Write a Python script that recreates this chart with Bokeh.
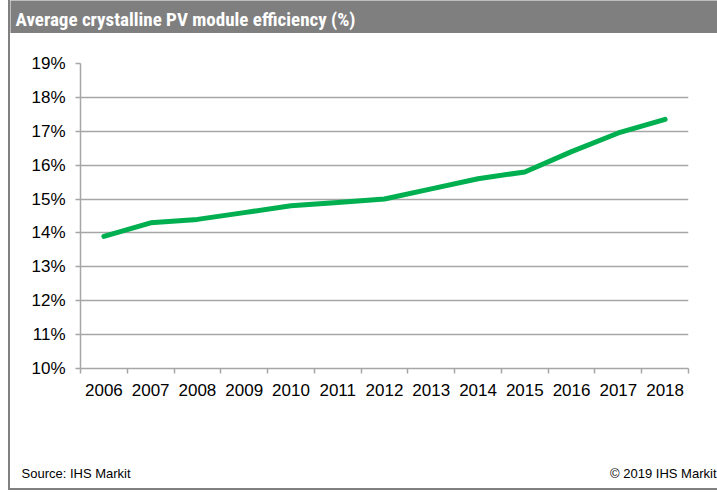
from bokeh.plotting import figure
from bokeh.layouts import column
from bokeh.models import FixedTicker, PrintfTickFormatter, Range1d
from bokeh.core.properties import value
from bokeh.embed import file_html
from bokeh.resources import INLINE

years = [2006, 2007, 2008, 2009, 2010, 2011, 2012, 2013, 2014, 2015, 2016, 2017, 2018]
efficiency = [13.9, 14.3, 14.4, 14.6, 14.8, 14.9, 15.0, 15.3, 15.6, 15.8, 16.4, 16.95, 17.35]
y_ticks = [10, 11, 12, 13, 14, 15, 16, 17, 18, 19]
title_text = "Average crystalline PV module efficiency (%)"
source_text = "Source: IHS Markit"
copyright_text = "\u00a9 2019 IHS Markit"

GRAY = "#7f7f7f"
GRID = "#a6a6a6"
FONT = "Liberation Sans"
W = 707
TH = 33
MH = 422
FH = 33

# Title bar
t = figure(width=W, height=TH, x_range=Range1d(0, W), y_range=Range1d(0, TH),
           x_axis_location=None, y_axis_location=None, frame_align=False,
           output_backend="svg", toolbar_location=None, min_border=0,
           background_fill_color=GRAY, border_fill_color=GRAY, outline_line_color=None)
t.grid.visible = False
t.text(x=[5], y=[TH - 19], text=[title_text], text_color="white",
       text_font=value("Roboto Condensed, Liberation Sans"),
       text_font_style="bold", text_font_size="19px", text_baseline="middle", text_align="left")

# Main chart
p = figure(width=W, height=MH, x_range=Range1d(years[0] - 0.5, years[-1] + 0.5),
           y_range=Range1d(10, 19), output_backend="svg", toolbar_location=None, frame_align=False,
           min_border_left=70, min_border_right=29, min_border_top=30, min_border_bottom=87,
           outline_line_color=None, background_fill_color="white", border_fill_color="white")
p.line(years, efficiency, line_color="#00b050", line_width=5, line_cap="round", line_join="round")

p.xgrid.visible = False
p.ygrid.ticker = FixedTicker(ticks=y_ticks)
p.ygrid.grid_line_color = GRID
p.ygrid.grid_line_width = 1.5

p.xaxis.ticker = FixedTicker(ticks=years, minor_ticks=[y - 0.5 for y in years] + [years[-1] + 0.5])
p.xaxis.major_label_overrides = {y: str(y) for y in years}
p.xaxis.major_tick_out = 0
p.xaxis.major_tick_in = 0
p.xaxis.minor_tick_out = 5
p.xaxis.minor_tick_in = 0
p.xaxis.minor_tick_line_color = GRID
p.xaxis.minor_tick_line_width = 1.5
p.xaxis.major_label_standoff = 10

p.yaxis.ticker = FixedTicker(ticks=y_ticks)
p.yaxis.formatter = PrintfTickFormatter(format="%d%%")
p.yaxis.major_tick_out = 5
p.yaxis.major_tick_in = 0
p.yaxis.minor_tick_out = 0
p.yaxis.minor_tick_in = 0
p.yaxis.major_tick_line_color = GRID
p.yaxis.major_tick_line_width = 1.5
p.yaxis.major_label_standoff = 10

for ax in (p.xaxis, p.yaxis):
    ax.axis_line_color = GRID
    ax.axis_line_width = 1.5
    ax.major_label_text_font = FONT
    ax.major_label_text_font_size = "17px"
    ax.major_label_text_color = "black"

# Footer
f = figure(width=W, height=FH, x_range=Range1d(0, W), y_range=Range1d(0, FH),
           x_axis_location=None, y_axis_location=None, frame_align=False,
           output_backend="svg", toolbar_location=None, min_border=0,
           outline_line_color=None, background_fill_color="white", border_fill_color="white")
f.grid.visible = False
f.text(x=[11], y=[15], text=[source_text], text_color="black", text_font=value(FONT),
       text_font_size="13px", text_baseline="middle", text_align="left")
f.text(x=[W - 1], y=[15], text=[copyright_text], text_color="black", text_font=value(FONT),
       text_font_size="13px", text_baseline="middle", text_align="right")

layout = column(t, p, f, spacing=0,
                styles={"margin-left": "8px",
                        "border-left": "2px solid #808080",
                        "border-bottom": "2px solid #808080"})

open("out.html", "w").write(file_html(layout, INLINE))
